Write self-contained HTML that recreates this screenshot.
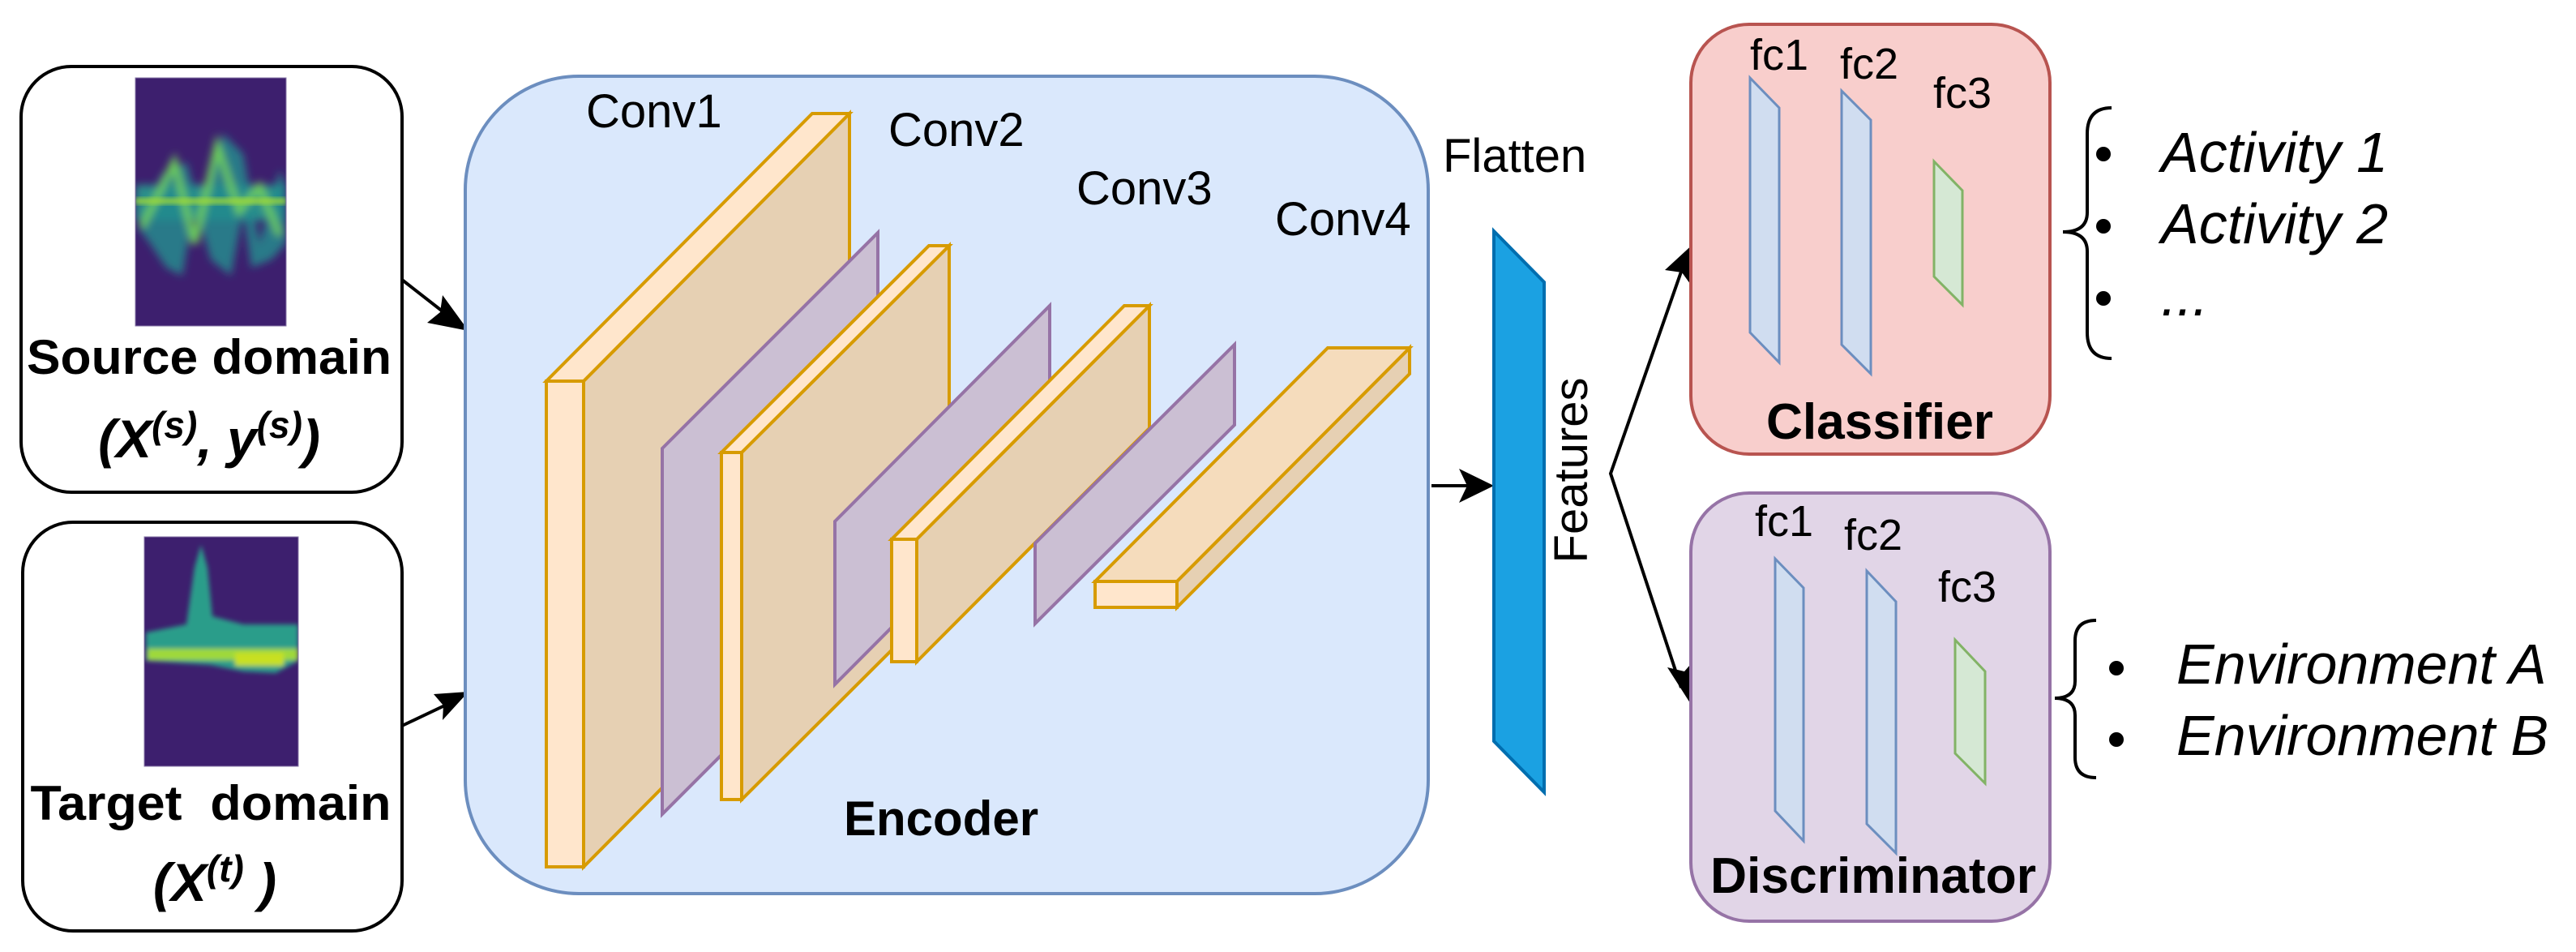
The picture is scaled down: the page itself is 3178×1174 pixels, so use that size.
<!DOCTYPE html>
<html><head><meta charset="utf-8"><style>
html,body{margin:0;padding:0;background:#fff;}
svg{display:block;}
text{font-family:"Liberation Sans",Arial,sans-serif;fill:#000;}
</style></head><body>
<svg width="3178" height="1174" viewBox="0 0 3178 1174" xmlns="http://www.w3.org/2000/svg">
<defs>
<filter id="bl" x="-20%" y="-20%" width="140%" height="140%"><feGaussianBlur stdDeviation="5"/></filter>
<filter id="bl2" x="-20%" y="-20%" width="140%" height="140%"><feGaussianBlur stdDeviation="3"/></filter>
<clipPath id="c1"><rect x="167" y="96" width="186" height="306"/></clipPath>
<clipPath id="c2"><rect x="178" y="662" width="190" height="283"/></clipPath>
</defs>

<!-- Source box -->
<rect x="26" y="82" width="470" height="525" rx="62" fill="#fff" stroke="#000" stroke-width="4"/>
<g clip-path="url(#c1)">
<rect x="167" y="96" width="186" height="306" fill="#3d1f6e"/>
<g filter="url(#bl)">
<rect x="167" y="228" width="186" height="44" fill="#2a8e8a"/>
<path d="M170 280 L200 215 L230 200 L250 270 L275 165 L300 190 L320 300 L345 210 L353 230 L353 300 L335 320 L310 330 L300 260 L285 340 L260 320 L240 250 L225 340 L205 330 L185 300 Z" fill="#238a8d" opacity="0.85"/>
<path d="M175 280 L215 200 L240 300 L268 180 L295 260 L320 230 L345 290" stroke="#6ccd5a" stroke-width="8" fill="none"/>
</g>
<rect x="167" y="244" width="186" height="8" fill="#a0da39" opacity="0.8" filter="url(#bl2)"/>
</g>
<rect x="167" y="96" width="186" height="306" fill="none" stroke="#8a7aa8" stroke-width="1"/>
<text x="258" y="461" font-size="60" font-weight="bold" text-anchor="middle" textLength="450" lengthAdjust="spacingAndGlyphs">Source domain</text>
<text x="258" y="564" font-size="66" font-weight="bold" font-style="italic" text-anchor="middle">(X<tspan dy="-24" font-size="46">(s)</tspan><tspan dy="24">, y</tspan><tspan dy="-24" font-size="46">(s)</tspan><tspan dy="24">)</tspan></text>

<!-- Target box -->
<rect x="28" y="644" width="468" height="504" rx="62" fill="#fff" stroke="#000" stroke-width="4"/>
<g clip-path="url(#c2)">
<rect x="178" y="662" width="190" height="283" fill="#3d1f6e"/>
<g filter="url(#bl2)">
<path d="M180 780 L230 770 L240 700 L248 672 L256 700 L262 760 L300 770 L368 770 L368 815 L340 830 L300 828 L260 820 L180 815 Z" fill="#2a9d8a"/>
<rect x="182" y="800" width="186" height="14" fill="#9fd93a"/>
<rect x="290" y="805" width="60" height="16" fill="#c8e020"/>
</g>
</g>
<rect x="178" y="662" width="190" height="283" fill="none" stroke="#8a7aa8" stroke-width="1"/>
<text x="260" y="1011" font-size="60" font-weight="bold" text-anchor="middle" textLength="445" lengthAdjust="spacingAndGlyphs">Target&#160; domain</text>
<text x="265" y="1111" font-size="66" font-weight="bold" font-style="italic" text-anchor="middle">(X<tspan dy="-24" font-size="46">(t)</tspan><tspan dy="24"> )</tspan></text>

<!-- arrows into encoder -->
<line x1="496" y1="345" x2="555" y2="391" stroke="#000" stroke-width="4"/>
<polygon points="578,408 527,398 543,385 546,364" fill="#000"/>
<line x1="496" y1="895" x2="555" y2="867" stroke="#000" stroke-width="4"/>
<polygon points="578,853 546,888 547,870 535,856" fill="#000"/>

<!-- Encoder -->
<rect x="574" y="94" width="1188" height="1008" rx="140" fill="#dae8fc" stroke="#6c8ebf" stroke-width="4"/>
<text x="723" y="157" font-size="58">Conv1</text>
<text x="1096" y="180" font-size="58">Conv2</text>
<text x="1328" y="252" font-size="58">Conv3</text>
<text x="1573" y="290" font-size="58">Conv4</text>
<text x="1041" y="1030" font-size="60" font-weight="bold">Encoder</text>

<g stroke-width="4" stroke-linejoin="miter">
<polygon points="720,470 1048,140 1048,739 720,1069" fill="#e6d0b3" stroke="#d79b00"/>
<polygon points="674,470 720,470 1048,140 1002,140" fill="#ffe6cc" stroke="#d79b00"/>
<rect x="674" y="470" width="46" height="599" fill="#ffe6cc" stroke="#d79b00"/>
<polygon points="817,553 1083,287 1083,738 817,1004" fill="#cbbfd3" stroke="#9673a6"/>
<polygon points="915,558 1171,303 1171,731 915,986" fill="#e6d0b3" stroke="#d79b00"/>
<polygon points="890,558 915,558 1171,303 1146,303" fill="#ffe6cc" stroke="#d79b00"/>
<rect x="890" y="558" width="25" height="428" fill="#ffe6cc" stroke="#d79b00"/>
<polygon points="1030,643 1295,377 1295,578 1030,844" fill="#cbbfd3" stroke="#9673a6"/>
<polygon points="1131,665 1418,377 1418,528 1131,816" fill="#e6d0b3" stroke="#d79b00"/>
<polygon points="1100,665 1131,665 1418,377 1387,377" fill="#ffe6cc" stroke="#d79b00"/>
<rect x="1100" y="665" width="31" height="151" fill="#ffe6cc" stroke="#d79b00"/>
<polygon points="1277,670 1523,425 1523,524 1277,769" fill="#cbbfd3" stroke="#9673a6"/>
<polygon points="1452,717 1739,429 1739,461 1452,749" fill="#e6d0b3" stroke="#d79b00"/>
<polygon points="1351,717 1452,717 1739,429 1638,429" fill="#f5dcbc" stroke="#d79b00"/>
<rect x="1351" y="717" width="101" height="32" fill="#ffe6cc" stroke="#d79b00"/>
</g>

<!-- encoder -> features -->
<line x1="1766" y1="599" x2="1815" y2="599" stroke="#000" stroke-width="4"/>
<polygon points="1843,599 1800,620 1810,599 1800,578" fill="#000"/>

<text x="1780" y="212" font-size="58">Flatten</text>
<polygon points="1843,285 1905,348 1905,977 1843,914" fill="#1ba1e2" stroke="#006eaf" stroke-width="4"/>
<text transform="translate(1958,580) rotate(-90)" font-size="58" text-anchor="middle">Features</text>

<!-- branching arrows -->
<polyline points="2080,318 1987,584 2074,848" fill="none" stroke="#000" stroke-width="4"/>
<polygon points="2092,298 2088,354 2075,336 2054,333" fill="#000"/>
<polygon points="2087,870 2057,823 2078,828 2092,812" fill="#000"/>

<!-- Classifier -->
<rect x="2086" y="30" width="443" height="530" rx="72" fill="#f8cecc" stroke="#b85450" stroke-width="4"/>
<g stroke-width="3">
<polygon points="2159,96 2195,133 2195,447 2159,410" fill="#d0ddf0" stroke="#6c8ebf"/>
<polygon points="2272,112 2308,148 2308,461 2272,425" fill="#d0ddf0" stroke="#6c8ebf"/>
<polygon points="2386,199 2421,235 2421,376 2386,341" fill="#d5e8d4" stroke="#82b366"/>
</g>
<text x="2159" y="86" font-size="54">fc1</text>
<text x="2270" y="97" font-size="54">fc2</text>
<text x="2385" y="133" font-size="54">fc3</text>
<text x="2179" y="541" font-size="62" font-weight="bold" textLength="280" lengthAdjust="spacingAndGlyphs">Classifier</text>

<!-- Discriminator -->
<rect x="2086" y="608" width="443" height="528" rx="72" fill="#e1d5e7" stroke="#9673a6" stroke-width="4"/>
<g stroke-width="3">
<polygon points="2190,689 2225,725 2225,1037 2190,1000" fill="#d0ddf0" stroke="#6c8ebf"/>
<polygon points="2303,704 2339,742 2339,1052 2303,1016" fill="#d0ddf0" stroke="#6c8ebf"/>
<polygon points="2412,789 2449,828 2449,966 2412,929" fill="#d5e8d4" stroke="#82b366"/>
</g>
<text x="2165" y="661" font-size="54">fc1</text>
<text x="2275" y="678" font-size="54">fc2</text>
<text x="2391" y="742" font-size="54">fc3</text>
<text x="2110" y="1101" font-size="62" font-weight="bold" textLength="402" lengthAdjust="spacingAndGlyphs">Discriminator</text>

<!-- brace 1 -->
<path d="M2605,133 Q2575,133 2575,165 L2575,262 Q2575,286 2545,286 Q2575,286 2575,310 L2575,410 Q2575,442 2605,442" fill="none" stroke="#000" stroke-width="4"/>
<circle cx="2595" cy="190" r="9"/>
<circle cx="2595" cy="279" r="9"/>
<circle cx="2595" cy="368" r="9"/>
<text x="2666" y="212" font-size="70" font-style="italic">Activity 1</text>
<text x="2666" y="300" font-size="70" font-style="italic">Activity 2</text>
<text x="2666" y="389" font-size="70" font-style="italic">...</text>

<!-- brace 2 -->
<path d="M2586,765 Q2560,765 2560,790 L2560,840 Q2560,861 2535,861 Q2560,861 2560,882 L2560,934 Q2560,959 2586,959" fill="none" stroke="#000" stroke-width="4"/>
<circle cx="2611" cy="824" r="9"/>
<circle cx="2611" cy="912" r="9"/>
<text x="2685" y="843" font-size="70" font-style="italic">Environment A</text>
<text x="2685" y="931" font-size="70" font-style="italic">Environment B</text>
</svg>
</body></html>
